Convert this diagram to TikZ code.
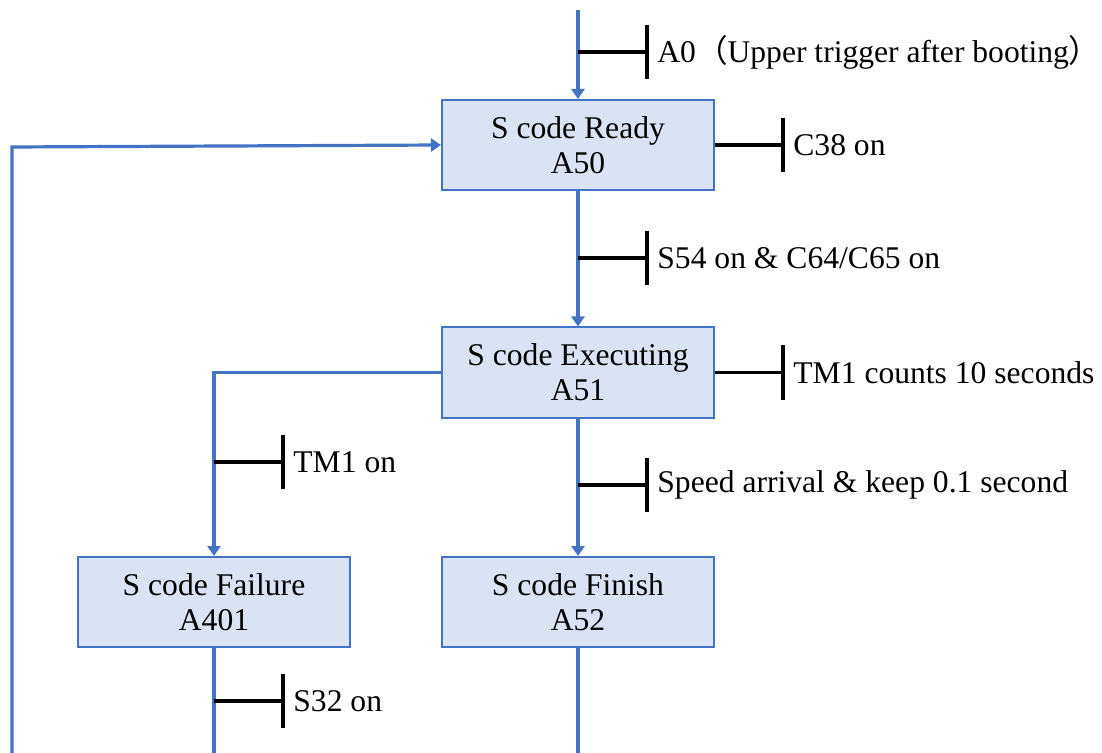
\documentclass[tikz,border=0pt]{standalone}
\usepackage{fontspec}
\setmainfont{Liberation Serif}
\newfontfamily\cjk{Noto Sans CJK SC}
\usetikzlibrary{arrows.meta, positioning}
\definecolor{flowblue}{HTML}{4472C4}
\definecolor{boxfill}{HTML}{DAE3F3}

\begin{document}
\begin{tikzpicture}[
    x=0.5pt, y=-0.5pt,
    every node/.style={font=\fontsize{15.8}{17.5}\selectfont},
    state/.style={rectangle, draw=flowblue, line width=1pt, fill=boxfill, minimum width=136pt, minimum height=45pt, align=center, inner sep=0pt},
    flow/.style={draw=flowblue, line width=1.6pt},
    flowarrow/.style={flow, -{Triangle[length=5pt, width=6.5pt]}},
    tick/.style={draw=black, line width=1.6pt},
    cond/.style={anchor=west, inner sep=0pt, xshift=5pt}
]
\useasboundingbox (0,0) rectangle (1102,753);

% States
\node[state] (ready) at (578,145) {S code Ready\\A50};
\node[state] (executing) at (578,372.5) {S code Executing\\A51};
\node[state] (failure) at (214,602) {S code Failure\\A401};
\node[state] (finish) at (578,602) {S code Finish\\A52};

% Free ends of the flow lines
\coordinate (start) at (578,10);
\coordinate (bottom) at (0,753);
\coordinate (loopcorner) at (12,147);

% Flow lines
\draw[flowarrow] (start) -- (ready.north);
\draw[flowarrow] (ready.south) -- (executing.north);
\draw[flowarrow] (executing.south) -- (finish.north);
\draw[flowarrow] (executing.west) -| (failure.north);
\draw[flow] (failure.south) -- (failure.south |- bottom);
\draw[flow] (finish.south) -- (finish.south |- bottom);
\draw[flowarrow] (loopcorner |- bottom) -- (loopcorner) -- (ready.west);

% Transition conditions
\draw[tick] (578,52) -- ++(69,0) coordinate (b0) ++(0,-27) -- ++(0,54);
\node[cond] (c0) at (b0) {A0{\cjk （}Upper trigger after booting{\cjk ）}};

\draw[tick] (ready.east) -- ++(68,0) coordinate (b1) ++(0,-27) -- ++(0,54);
\node[cond] (c1) at (b1) {C38 on};

\draw[tick] (578,258) -- ++(69,0) coordinate (b2) ++(0,-27) -- ++(0,54);
\node[cond] (c2) at (b2) {S54 on \& C64/C65 on};

\draw[tick] (executing.east) -- ++(68,0) coordinate (b3) ++(0,-27) -- ++(0,54);
\node[cond] (c3) at (b3) {TM1 counts 10 seconds};

\draw[tick] (214,462) -- ++(69,0) coordinate (b4) ++(0,-27) -- ++(0,54);
\node[cond] (c4) at (b4) {TM1 on};

\draw[tick] (578,485) -- ++(69,0) coordinate (b5) ++(0,-27) -- ++(0,54);
\node[cond] (c5) at (b5) {Speed arrival \& keep 0.1 second};

\draw[tick] (214,701) -- ++(69,0) coordinate (b6) ++(0,-27) -- ++(0,54);
\node[cond] (c6) at (b6) {S32 on};
\end{tikzpicture}
\end{document}
